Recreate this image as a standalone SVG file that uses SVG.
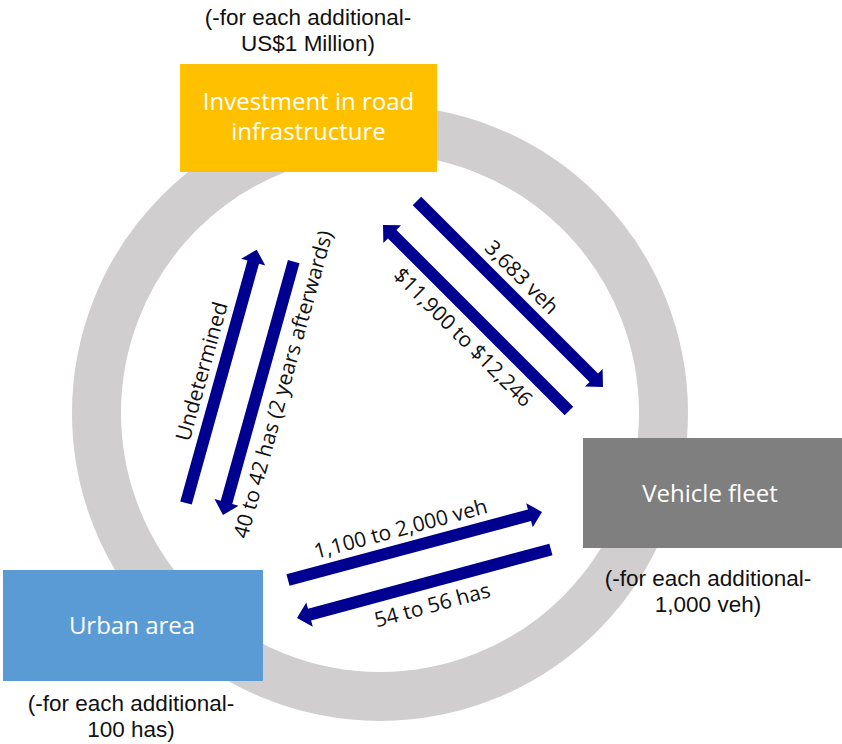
<svg xmlns="http://www.w3.org/2000/svg" width="842" height="744" viewBox="0 0 842 744">
<defs>
<style>
.ring{fill:none;stroke:#D0CECE;stroke-width:49}
.box-t{font-family:"Open Sans","DejaVu Sans",sans-serif;font-size:24px;fill:#FFFFFF;text-anchor:middle}
.sub{font-family:"Liberation Sans",Arial,sans-serif;font-size:22.5px;fill:#111111;text-anchor:middle}
.lbl{font-family:"Open Sans","DejaVu Sans",sans-serif;font-size:21px;fill:#111111;text-anchor:middle}
.arr{fill:#000090}
</style>
<path id="arrL" d="M0,0 L13,-12.5 L13,-6 L263,-6 L263,6 L13,6 L13,12.5 Z"/>
<path id="arrR" d="M263,0 L250,-12.5 L250,-6 L0,-6 L0,6 L250,6 L250,12.5 Z"/>
</defs>
<rect width="842" height="744" fill="#FFFFFF"/>
<circle class="ring" cx="380" cy="413" r="283.5"/>

<g id="connectors">
<g id="c-inv-veh" transform="translate(417,201) rotate(45)">
<use href="#arrR" class="arr"/>
<text class="lbl" x="128" y="-13">3,683 veh</text>
</g>
<g id="c-veh-inv" transform="translate(383,225) rotate(45)">
<use href="#arrL" class="arr"/>
<text class="lbl" x="136" y="30">$11,900 to $12,246</text>
</g>
<g id="c-urb-inv" transform="translate(186,503) rotate(-74.4)">
<use href="#arrR" class="arr"/>
<text class="lbl" x="131" y="-13">Undetermined</text>
</g>
<g id="c-inv-urb" transform="translate(223,515) rotate(-74.4)">
<use href="#arrL" class="arr"/>
<text class="lbl" x="142" y="30">40 to 42 has (2 years afterwards)</text>
</g>
<g id="c-urb-veh" transform="translate(288,580) rotate(-15)">
<use href="#arrR" class="arr"/>
<text class="lbl" x="122" y="-13">1,100 to 2,000 veh</text>
</g>
<g id="c-veh-urb" transform="translate(297,618) rotate(-15.1)">
<use href="#arrL" class="arr"/>
<text class="lbl" x="134" y="30">54 to 56 has</text>
</g>
</g>

<g id="investment">
<rect x="180" y="64" width="257" height="108" fill="#FFC000"/>
<text class="box-t" x="308.5" y="110">Investment in road</text>
<text class="box-t" x="308.5" y="140">infrastructure</text>
<text class="sub" x="308" y="25">(-for each additional-</text>
<text class="sub" x="308" y="51">US$1 Million)</text>
</g>

<g id="vehicle">
<rect x="583" y="438" width="259" height="110" fill="#7F7F7F"/>
<text class="box-t" x="710" y="502">Vehicle fleet</text>
<text class="sub" x="708" y="586">(-for each additional-</text>
<text class="sub" x="708" y="612">1,000 veh)</text>
</g>

<g id="urban">
<rect x="3" y="570" width="260" height="111" fill="#5B9BD5"/>
<text class="box-t" x="132" y="634">Urban area</text>
<text class="sub" x="131" y="711">(-for each additional-</text>
<text class="sub" x="131" y="737">100 has)</text>
</g>
</svg>
